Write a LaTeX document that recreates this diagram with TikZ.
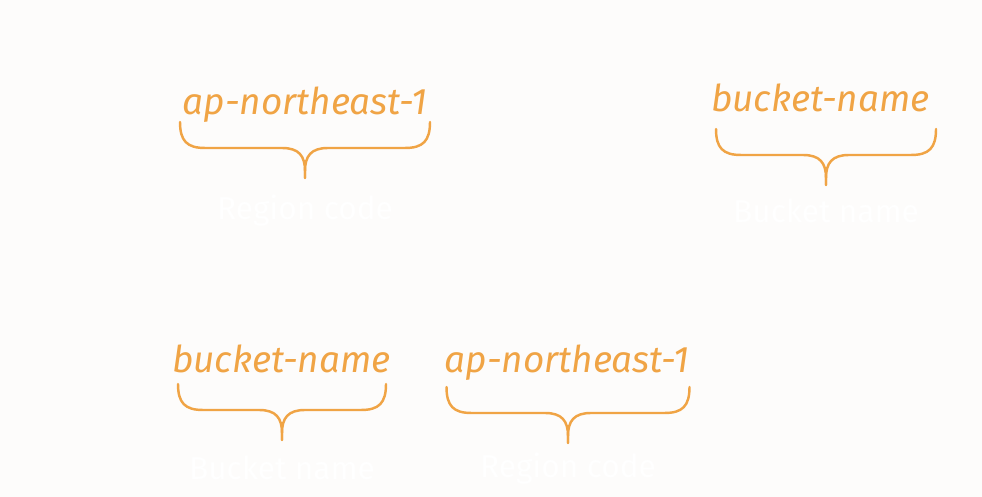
\documentclass[tikz,border=0pt]{standalone}
\usepackage{fontspec}
\setmainfont{Fira Sans}
\usepackage{xcolor}
\usepackage{tikz}
\usetikzlibrary{positioning,calc}

\definecolor{bgpaper}{HTML}{FDFCFB}
\definecolor{awsorange}{HTML}{F0A445}

\tikzset{
	orangetxt/.style={anchor=base, inner sep=0, text=awsorange, font=\itshape\fontsize{21}{24}\selectfont},
	whitelbl/.style={anchor=base, inner sep=0, text=white, font=\fontsize{18}{21}\selectfont},
	bracepath/.style={draw=awsorange, line width=1.4pt, line cap=round},
	pics/curly/.style={code={
		\draw[bracepath] (-#1,0.52) .. controls (-#1,0.14) and (-#1+0.14,0) .. (-#1+0.5,0)
			-- (-0.46,0) .. controls (-0.12,0) and (0,-0.16) .. (0,-0.46) -- (0,-0.6);
		\draw[bracepath] (#1,0.52) .. controls (#1,0.14) and (#1-0.14,0) .. (#1-0.5,0)
			-- (0.46,0) .. controls (0.12,0) and (0,-0.16) .. (0,-0.46) -- (0,-0.6);
	}}
}

\begin{document}
\begin{tikzpicture}
	\fill[bgpaper] (0,0) rectangle (19.64,9.94);
	\useasboundingbox (0,0) rectangle (19.64,9.94);

	% upper row
	\node[orangetxt] (rgn1) at (6.10,7.64) {ap-northeast-1};
	\pic at (6.10,6.98) {curly=2.5};
	\node[whitelbl] (rgnlbl1) at (6.10,5.54) {Region code};

	\node[orangetxt] (bkt1) at (16.41,7.70) {bucket-name};
	\pic at (16.52,6.84) {curly=2.2};
	\node[whitelbl] (bktlbl1) at (16.52,5.48) {Bucket name};

	% lower row
	\node[orangetxt] (bkt2) at (5.63,2.48) {bucket-name};
	\pic at (5.64,1.74) {curly=2.08};
	\node[whitelbl] (bktlbl2) at (5.64,0.34) {Bucket name};

	\node[orangetxt] (rgn2) at (11.34,2.48) {ap-northeast-1};
	\pic at (11.36,1.68) {curly=2.43};
	\node[whitelbl] (rgnlbl2) at (11.36,0.38) {Region code};
\end{tikzpicture}
\end{document}
